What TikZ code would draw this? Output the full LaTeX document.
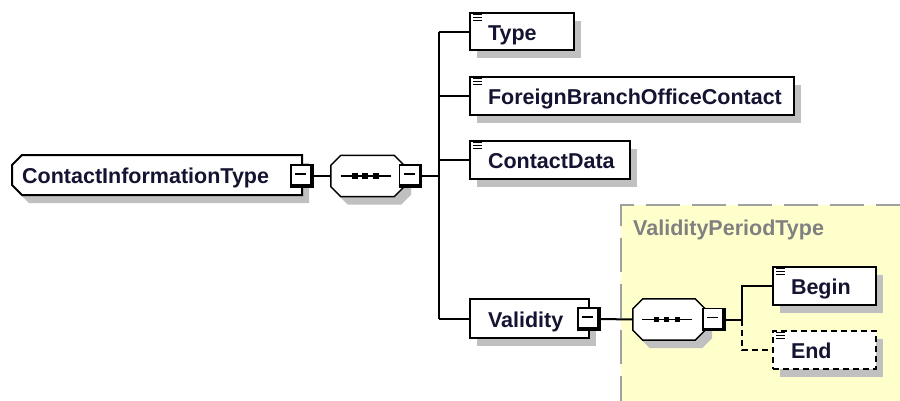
\documentclass[tikz,border=0pt]{standalone}
\usepackage{fontspec}
\setmainfont{Liberation Sans}
\usetikzlibrary{shadows}
\definecolor{shadowgray}{RGB}{192,192,192}
\definecolor{yel}{RGB}{255,255,204}
\definecolor{dashgray}{RGB}{160,160,160}
\definecolor{vptgray}{RGB}{128,128,128}
\definecolor{txt}{RGB}{20,20,50}
\newcommand\octpath[1]{([yshift=-10pt]#1.north west) -- ([xshift=10pt]#1.north west) -- ([xshift=-10pt]#1.north east) -- ([yshift=-10pt]#1.north east) -- ([yshift=10pt]#1.south east) -- ([xshift=-10pt]#1.south east) -- ([xshift=10pt]#1.south west) -- ([yshift=10pt]#1.south west) -- cycle}
\tikzset{
  shad/.style={drop shadow={shadow xshift=7pt, shadow yshift=-8pt, fill=shadowgray, opacity=1}},
  lbl/.style={font=\fontsize{21.5}{24}\selectfont\bfseries, text=txt, text height=17pt, text depth=0pt},
  elem/.style={rectangle, draw=black, line width=2pt, fill=white, shad, inner xsep=0pt, inner ysep=0pt,
    minimum height=38pt, align=left, lbl},
  dashedelem/.style={elem, dash pattern=on 6pt off 4pt},
  conn/.style={line width=2pt},
  dconn/.style={line width=2pt, dash pattern=on 6pt off 4pt},
  octbase/.style={rectangle, minimum width=73pt, minimum height=41pt, inner sep=0pt},
  octline/.style={draw=black, line width=1.5pt, fill=white, shad},
  minusbox/.style={rectangle, draw=black, line width=1.4pt, fill=white, minimum width=22pt,
    minimum height=22pt, inner sep=0pt,
    path picture={
      \draw[line width=6pt] (path picture bounding box.north east) -- (path picture bounding box.south east) -- (path picture bounding box.south west);
      \draw[line width=1.5pt] ([shift={(4pt,2pt)}]path picture bounding box.west) -- ([shift={(-7pt,2pt)}]path picture bounding box.east);
    }},
  icon/.style={line width=1.5pt}
}
\begin{document}
\begin{tikzpicture}[x=1pt,y=-1pt]
\useasboundingbox (0,0) rectangle (900,400);
% type container
\fill[yel] (621,205) rectangle (910,410);
\draw[dashgray, line width=1.6pt, dash pattern=on 34pt off 12pt] (621,410) -- (621,205) -- (910,205);
\node[lbl, text=vptgray, anchor=west, inner sep=0pt] (vpt) at (633,227) {ValidityPeriodType};

% root complex type
\draw[line width=2pt, fill=white, shad] (12,165) -- (22,155) -- (302,155) -- (302,195) -- (22,195) -- (12,185) -- cycle;
\node[lbl, anchor=west, inner sep=0pt] (cit) at (22,175) {ContactInformationType};
\node[minusbox] (m1) at (302,176) {};

% sequence 1
\node[octbase] (seq1) at (367.5,176) {};
\draw[octline] \octpath{seq1};
\draw[line width=1.5pt] ([xshift=-27pt]seq1.center) -- ([xshift=23pt]seq1.center);
\foreach \dx in {-12.5,-2.5,8.5}{
  \fill ([xshift=\dx pt]seq1.center) +(-2.6,-2.6) rectangle +(2.6,2.6);
}
\node[minusbox] (m2) at (410.5,176) {};
\draw[conn] (m1.east) -- (seq1.west);
\coordinate (j1) at (439,176);
\draw[conn] (m2.east) -- (j1);

% children
\node[elem, anchor=west, text width=104pt, minimum height=37pt] (t) at (469,31.5) {\hspace*{18pt}Type};
\node[elem, anchor=west, text width=324pt] (f) at (469,96) {\hspace*{18pt}ForeignBranchOfficeContact};
\node[elem, anchor=west, text width=160pt] (c) at (469,160) {\hspace*{18pt}ContactData};
\node[elem, anchor=west, text width=119pt, minimum height=39pt] (v) at (469,318.5) {\hspace*{18pt}Validity};
\node[minusbox] (m3) at (589,319) {};

\draw[conn] (j1 |- t.west) -- (j1 |- v.west);
\foreach \n in {t,f,c,v}{
  \draw[conn] (j1 |- \n.west) -- (\n.west);
}

% sequence 2
\node[octbase, minimum width=72pt] (seq2) at (669,319.5) {};
\draw[octline] \octpath{seq2};
\draw[line width=1.5pt] ([xshift=-27pt]seq2.center) -- ([xshift=23pt]seq2.center);
\foreach \dx in {-12.5,-2.5,8.5}{
  \fill ([xshift=\dx pt]seq2.center) +(-2.6,-2.6) rectangle +(2.6,2.6);
}
\node[minusbox] (m4) at (714,319.5) {};
\draw[conn] (m3.east) -- (seq2.west);
\coordinate (j2) at (742,319.5);
\draw[conn] (m4.east) -- (j2);

\node[elem, anchor=west, text width=103pt] (b) at (772,286) {\hspace*{18pt}Begin};
\node[dashedelem, anchor=west, text width=103pt] (e) at (772,350) {\hspace*{18pt}End};
\draw[conn] (j2) |- (b.west);
\draw[dconn] (j2) |- (e.west);

% element icons
\foreach \n in {t,f,c,b,e}{
  \foreach \dy in {2.5,5.5,8.5}{
    \draw[icon] ([shift={(4pt,-\dy pt)}]\n.north west) -- ++(9,0);
  }
}
\end{tikzpicture}
\end{document}
